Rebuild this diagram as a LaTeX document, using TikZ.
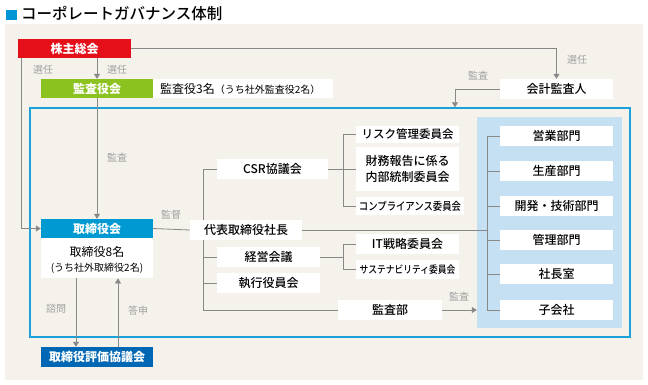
\documentclass[tikz,border=0pt]{standalone}
\usepackage{fontspec}
\setmainfont{Noto Sans CJK JP}
\newfontfamily\medfont{Noto Sans CJK JP Medium}
\newfontfamily\narrowfont[FakeStretch=0.85]{Noto Sans CJK JP Medium}
\usetikzlibrary{arrows.meta,calc}
\pgfdeclarelayer{bgl}\pgfdeclarelayer{linel}
\pgfsetlayers{bgl,linel,main}
\definecolor{bgbeige}{HTML}{F5F2EC}
\definecolor{redh}{HTML}{E50F1A}
\definecolor{greenh}{HTML}{8CC21F}
\definecolor{blueh}{HTML}{0099D2}
\definecolor{darkblueh}{HTML}{0067B5}
\definecolor{frameblue}{HTML}{1BA1D9}
\definecolor{panelblue}{HTML}{C4E0F2}
\definecolor{linegray}{HTML}{888888}
\definecolor{labelgray}{HTML}{A0A0A0}
\definecolor{titlesq}{HTML}{0096D6}
\begin{document}
\begin{tikzpicture}[x=1pt,y=-1pt,
 box/.style={fill=white, inner sep=0pt, minimum height=20pt, text=black, font=\medfont\fontsize{12}{14}\selectfont},
 head/.style={box, font=\bfseries\fontsize{12}{14}\selectfont, text=white, minimum width=112pt, minimum height=19pt},
 cbox/.style={box, minimum width=103pt},
 dept/.style={box, minimum width=113pt},
 conn/.style={draw=linegray, line width=0.8pt},
 arr/.style={conn, -{Triangle[width=6pt,length=5pt]}},
 lab/.style={text=labelgray, font=\fontsize{10}{12}\selectfont, inner sep=0pt},
]
\useasboundingbox (0,0) rectangle (648,384);
\begin{pgfonlayer}{bgl}
\fill[white] (0,0) rectangle (648,384);
\fill[bgbeige] (5,24) rectangle (643,380);
\node[draw=frameblue, line width=1.5pt, minimum width=600pt, minimum height=229pt, inner sep=0pt] (frame) at (330,222.5) {};
\node[fill=panelblue, minimum width=145pt, minimum height=211pt, inner sep=0pt] (panel) at (549.5,222.5) {};
\end{pgfonlayer}
% title
\fill[titlesq] (6,10) rectangle (17,20);
\node[anchor=west, inner sep=0pt, font=\medfont\fontsize{15.5}{18}\selectfont] (title) at (21,14) {コーポレートガバナンス体制};
% top
\node[head, fill=redh, minimum width=113pt] (kabu) at (74.5,48.5) {株主総会};
\node[head, fill=greenh] (kansa) at (97,88.5) {監査役会};
\node[box, anchor=west, minimum height=19pt, text width=166pt, inner xsep=7pt, align=left, font=\fontsize{12}{14}\selectfont] (kansainfo) at (153,88.5) {監査役3名{\fontsize{10}{12}\selectfont（うち社外監査役2名）}};
\node[box, minimum width=113pt] (kaikei) at (556.5,89) {会計監査人};
% board
\node[head, fill=blueh] (tori) at (97,228.5) {取締役会};
\node[box, minimum width=112pt, minimum height=40pt, anchor=north] (toribox) at (97,238) {};
\node[inner sep=0pt, font=\fontsize{12}{14}\selectfont] (tori1) at (97,252) {取締役8名};
\node[inner sep=0pt, font=\fontsize{10}{12}\selectfont] (tori2) at (97,268) {(うち社外取締役2名)};
\node[head, fill=darkblueh, minimum height=20pt] (hyoka) at (97,357) {取締役評価協議会};
% executive
\node[box, minimum width=112pt] (ceo) at (246,230) {代表取締役社長};
\node[box, minimum width=111pt] (csr) at (272.5,169) {CSR協議会};
\node[cbox] (keiei) at (268.5,257) {経営会議};
\node[cbox] (shikko) at (268.5,283) {執行役員会};
\node[box, minimum width=104pt] (kansabu) at (390,310) {監査部};
\node[cbox, minimum height=17pt, font=\medfont\fontsize{11.5}{14}\selectfont] (risk) at (407.5,134) {リスク管理委員会};
\node[cbox, minimum height=44pt, align=center, font=\medfont\fontsize{12}{16}\selectfont] (zaimu) at (407.5,169) {財務報告に係る\\内部統制委員会};
\node[box, minimum width=108pt, minimum height=18pt, font=\narrowfont\fontsize{11}{12}\selectfont] (compliance) at (410,206) {コンプライアンス委員会};
\node[cbox, minimum height=20pt] (it) at (407.5,244) {IT戦略委員会};
\node[cbox, minimum height=19pt, font=\narrowfont\fontsize{10.3}{11}\selectfont] (sustain) at (407.5,269.5) {サステナビリティ委員会};
% departments
\node[dept] (d1) at (556.5,136) {営業部門};
\node[dept] (d2) at (556.5,171) {生産部門};
\node[dept] (d3) at (556.5,206) {開発・技術部門};
\node[dept] (d4) at (556.5,240) {管理部門};
\node[dept] (d5) at (556.5,274) {社長室};
\node[dept] (d6) at (556.5,310) {子会社};
% coordinates
\coordinate (t1) at (203,0);
\coordinate (t2) at (343,0);
\coordinate (t3) at (487,0);
\coordinate (t4) at (455,0);
\coordinate (a1) at (76,0);
\coordinate (a2) at (118,0);
% connectors
\begin{pgfonlayer}{linel}
\draw[arr] (kabu.east) -| (kaikei.north);
\draw[arr] (kabu.south -| kansa.north) -- (kansa.north);
\draw[arr] ([xshift=4pt]kabu.south west) |- (tori.west);
\draw[arr] (kansa.south) -- (tori.north);
\draw[arr] (kaikei.west) -| (t4 |- frame.north);
\draw[conn] (tori.east) -- (ceo.west);
\draw[conn] (ceo.east) -- (ceo.east -| t3);
\draw[conn] (csr.west) -| (t1 |- kansabu.west) -- (kansabu.west);
\draw[conn] (keiei.west) -- (keiei.west -| t1);
\draw[conn] (shikko.west) -- (shikko.west -| t1);
\draw[conn] (csr.east) -- (zaimu.west);
\draw[conn] (risk.west) -| (t2 |- compliance.west) -- (compliance.west);
\draw[conn] (keiei.east) -- (keiei.east -| t2);
\draw[conn] (it.west) -| (t2 |- sustain.west) -- (sustain.west);
\draw[conn] (d1.west) -| (t3 |- d6.west) -- (d6.west);
\draw[conn] (d2.west) -- (d2.west -| t3);
\draw[conn] (d3.west) -- (d3.west -| t3);
\draw[conn] (d4.west) -- (d4.west -| t3);
\draw[conn] (d5.west) -- (d5.west -| t3);
\draw[arr] (kansabu.east) -- (kansabu.east -| panel.west);
\draw[arr] (toribox.south -| a1) -- (hyoka.north -| a1);
\draw[arr] (hyoka.north -| a2) -- (toribox.south -| a2);
\end{pgfonlayer}
% labels
\node[lab] (l1) at (43,70) {選任};
\node[lab] (l2) at (117,70) {選任};
\node[lab] (l3) at (577,60) {選任};
\node[lab] (l4) at (117,158) {監査};
\node[lab] (l5) at (171,215) {監督};
\node[lab] (l6) at (478,76) {監査};
\node[lab] (l7) at (459,297) {監査};
\node[lab] (l8) at (56,309) {諮問};
\node[lab] (l9) at (138,311) {答申};
\end{tikzpicture}
\end{document}
